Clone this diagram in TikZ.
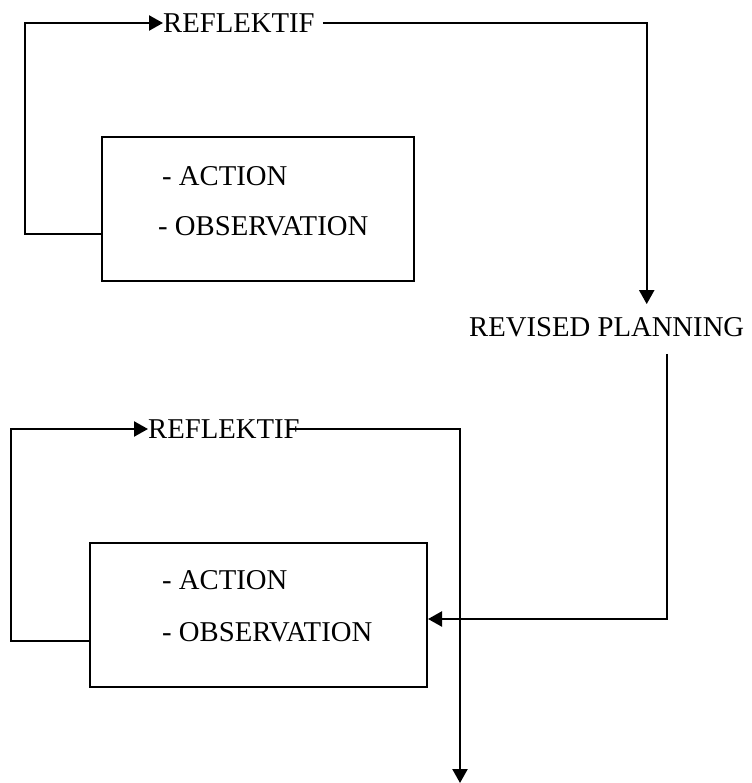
\documentclass[tikz,border=0pt]{standalone}
\usepackage{fontspec}
\setmainfont{Liberation Serif}
\usetikzlibrary{arrows.meta}

\begin{document}
\begin{tikzpicture}[x=1pt,y=-1pt,
	flow/.style={line width=2.3pt,-{Triangle[length=14pt,width=15pt]}},
	stage/.style={draw,line width=2pt,minimum width=#1,minimum height=144pt,inner sep=0pt},
	txt/.style={inner sep=0pt,anchor=west,font=\fontsize{28.7}{34}\selectfont}]
	\useasboundingbox (0,0) rectangle (751,783);
	% first cycle
	\node[stage=312pt] (box1) at (258,209) {};
	\node[txt] (act1) at (162,176) {- ACTION};
	\node[txt] (obs1) at (158,226) {- OBSERVATION};
	\node[txt] (refl1) at (163,23) {REFLEKTIF};
	\node[txt] (plan) at (469,327) {REVISED PLANNING};
	\draw[flow] ([yshift=-25pt]box1.west) -- ++(-76,0) |- (refl1.west);
	\draw[flow] ([xshift=8pt]refl1.east) -| ([xshift=40pt,yshift=13pt]plan.north);
	% second cycle
	\node[stage=337pt] (box2) at (258.5,615) {};
	\node[txt] (act2) at (162,580) {- ACTION};
	\node[txt] (obs2) at (162,632) {- OBSERVATION};
	\node[txt] (refl2) at (148,429) {REFLEKTIF};
	\coordinate (next) at (460,783);
	\draw[flow] ([xshift=60pt,yshift=-17pt]plan.south) |- ([yshift=-4pt]box2.east);
	\draw[flow] ([yshift=-26pt]box2.west) -- ++(-78,0) |- (refl2.west);
	\draw[flow] ([xshift=-12pt]refl2.east) -| (next);
\end{tikzpicture}
\end{document}
